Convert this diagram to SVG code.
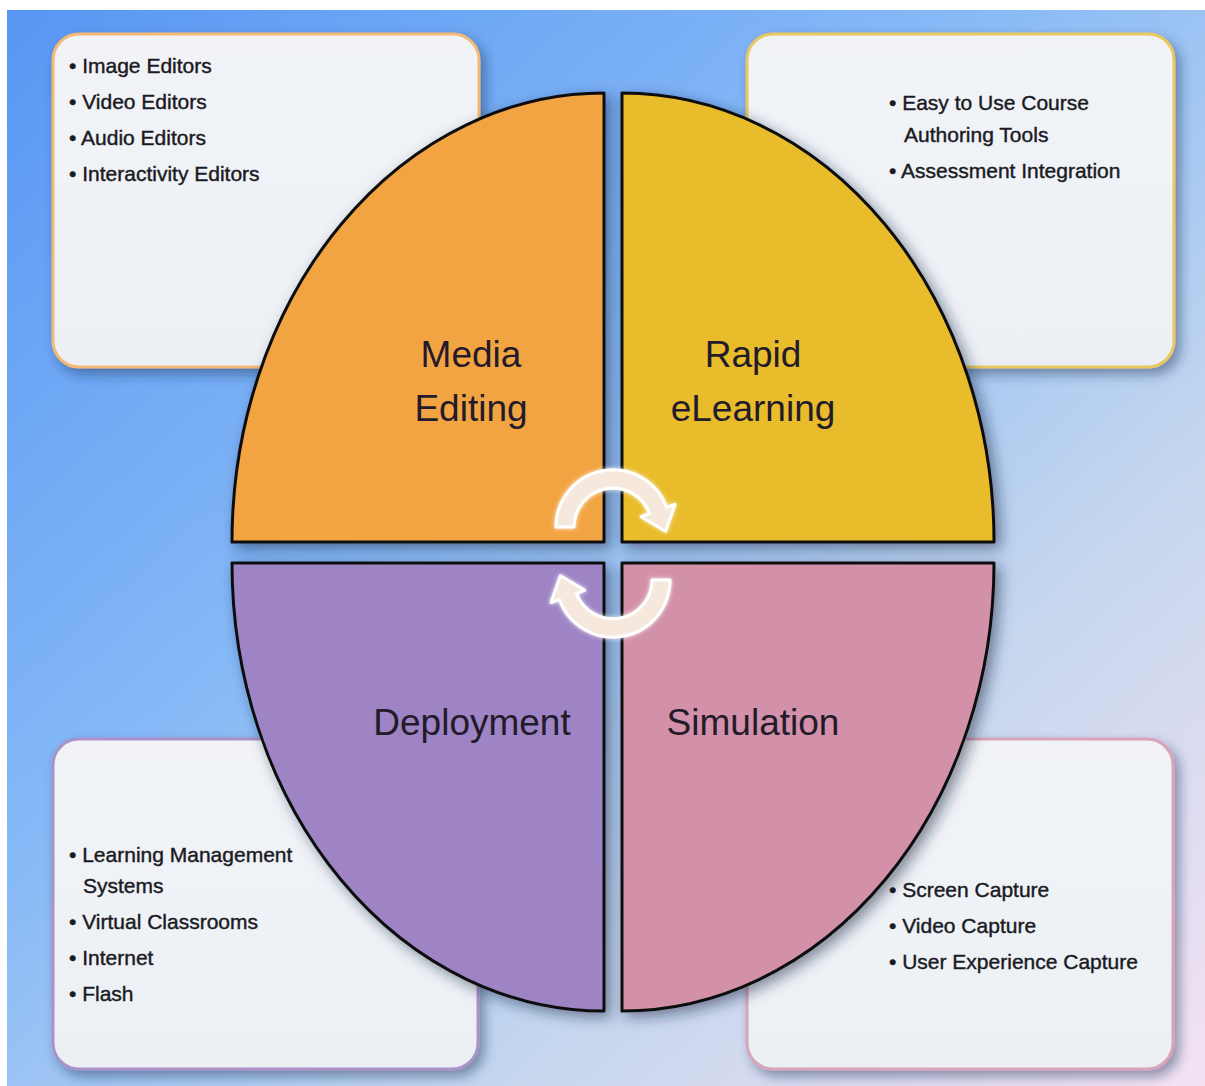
<svg xmlns="http://www.w3.org/2000/svg" width="1205" height="1086" viewBox="0 0 1205 1086">
<defs>
<linearGradient id="bg" x1="0" y1="0" x2="1" y2="1">
<stop offset="0" stop-color="#5796f3"/>
<stop offset="0.4" stop-color="#86b9f6"/>
<stop offset="0.7" stop-color="#c4d6ee"/>
<stop offset="1" stop-color="#f4e2f3"/>
</linearGradient>
<linearGradient id="boxfill" x1="0" y1="0" x2="0" y2="1">
<stop offset="0" stop-color="#f1f3f7"/>
<stop offset="1" stop-color="#ecf0f5"/>
</linearGradient>
<filter id="shadow" x="-10%" y="-10%" width="125%" height="125%">
<feDropShadow dx="5" dy="6" stdDeviation="6" flood-color="#1c2c55" flood-opacity="0.45"/>
</filter>
<filter id="qshadow" x="-10%" y="-10%" width="125%" height="125%">
<feDropShadow dx="5" dy="5" stdDeviation="7" flood-color="#10203c" flood-opacity="0.5"/>
</filter>
<filter id="glow" x="-20%" y="-20%" width="140%" height="140%">
<feGaussianBlur in="SourceAlpha" stdDeviation="2" result="b"/>
<feFlood flood-color="#ffffff" flood-opacity="0.9"/>
<feComposite in2="b" operator="in" result="g"/>
<feMerge><feMergeNode in="g"/><feMergeNode in="SourceGraphic"/></feMerge>
</filter>
</defs>
<style>
.box{fill:url(#boxfill);stroke-width:3;filter:url(#shadow)}
.quad{stroke:#111;stroke-width:3;stroke-linejoin:round;filter:url(#qshadow)}
.big{font-family:"Liberation Sans",Arial,sans-serif;font-size:37px;fill:#231a2a;text-anchor:middle}
.bul{font-family:"Liberation Sans",Arial,sans-serif;font-size:21px;fill:#1a1a22;stroke:#1a1a22;stroke-width:0.4}
.arrow{fill:#f6e8dc;stroke:#ffffff;stroke-width:3;stroke-linejoin:round;filter:url(#glow)}
</style>
<rect x="0" y="0" width="1205" height="1086" fill="#ffffff"/>
<rect x="7" y="10" width="1198" height="1076" fill="url(#bg)"/>

<g id="box-media">
<rect class="box" x="53" y="34" width="426" height="333" rx="26" stroke="#f6b874"/>
<text class="bul" x="69" y="73">• Image Editors</text>
<text class="bul" x="69" y="109">• Video Editors</text>
<text class="bul" x="69" y="145">• Audio Editors</text>
<text class="bul" x="69" y="181">• Interactivity Editors</text>
</g>
<g id="box-rapid">
<rect class="box" x="747" y="34" width="427" height="333" rx="26" stroke="#e9c860"/>
<text class="bul" x="889" y="110">• Easy to Use Course</text>
<text class="bul" x="904" y="142">Authoring Tools</text>
<text class="bul" x="889" y="178">• Assessment Integration</text>
</g>
<g id="box-deployment">
<rect class="box" x="53" y="739" width="425" height="330" rx="26" stroke="#a992c8"/>
<text class="bul" x="69" y="862">• Learning Management</text>
<text class="bul" x="83" y="893">Systems</text>
<text class="bul" x="69" y="929">• Virtual Classrooms</text>
<text class="bul" x="69" y="965">• Internet</text>
<text class="bul" x="69" y="1001">• Flash</text>
</g>
<g id="box-simulation">
<rect class="box" x="747" y="739" width="426" height="330" rx="26" stroke="#d9a3ba"/>
<text class="bul" x="889" y="897">• Screen Capture</text>
<text class="bul" x="889" y="933">• Video Capture</text>
<text class="bul" x="889" y="969">• User Experience Capture</text>
</g>

<g id="media-editing">
<path class="quad" d="M604,93 L604,542 L232,542 A372,449 0 0 1 604,93 Z" fill="#f2a443"/>
<text class="big" x="471" y="367">Media</text>
<text class="big" x="471" y="421">Editing</text>
</g>
<g id="rapid-elearning">
<path class="quad" d="M622,93 A372,449 0 0 1 994,542 L622,542 Z" fill="#e8bc2a"/>
<text class="big" x="753" y="367">Rapid</text>
<text class="big" x="753" y="421">eLearning</text>
</g>
<g id="deployment">
<path class="quad" d="M232,563 L604,563 L604,1011 A372,448 0 0 1 232,563 Z" fill="#9e84c4"/>
<text class="big" x="472" y="735">Deployment</text>
</g>
<g id="simulation">
<path class="quad" d="M622,563 L994,563 A372,448 0 0 1 622,1011 Z" fill="#d291a8"/>
<text class="big" x="753" y="735">Simulation</text>
</g>

<g id="connectors">
<path id="cycle-top" class="arrow" d="M556,527 A57,57 0 0 1 666.6,507.5 L675,504.4 L665.6,531.3 L641.2,516.7 L649.6,513.7 A39,39 0 0 0 574,527 Z"/>
<path id="cycle-bottom" class="arrow" transform="rotate(180 613 553.5)" d="M556,527 A57,57 0 0 1 666.6,507.5 L675,504.4 L665.6,531.3 L641.2,516.7 L649.6,513.7 A39,39 0 0 0 574,527 Z"/>
</g>
</svg>
